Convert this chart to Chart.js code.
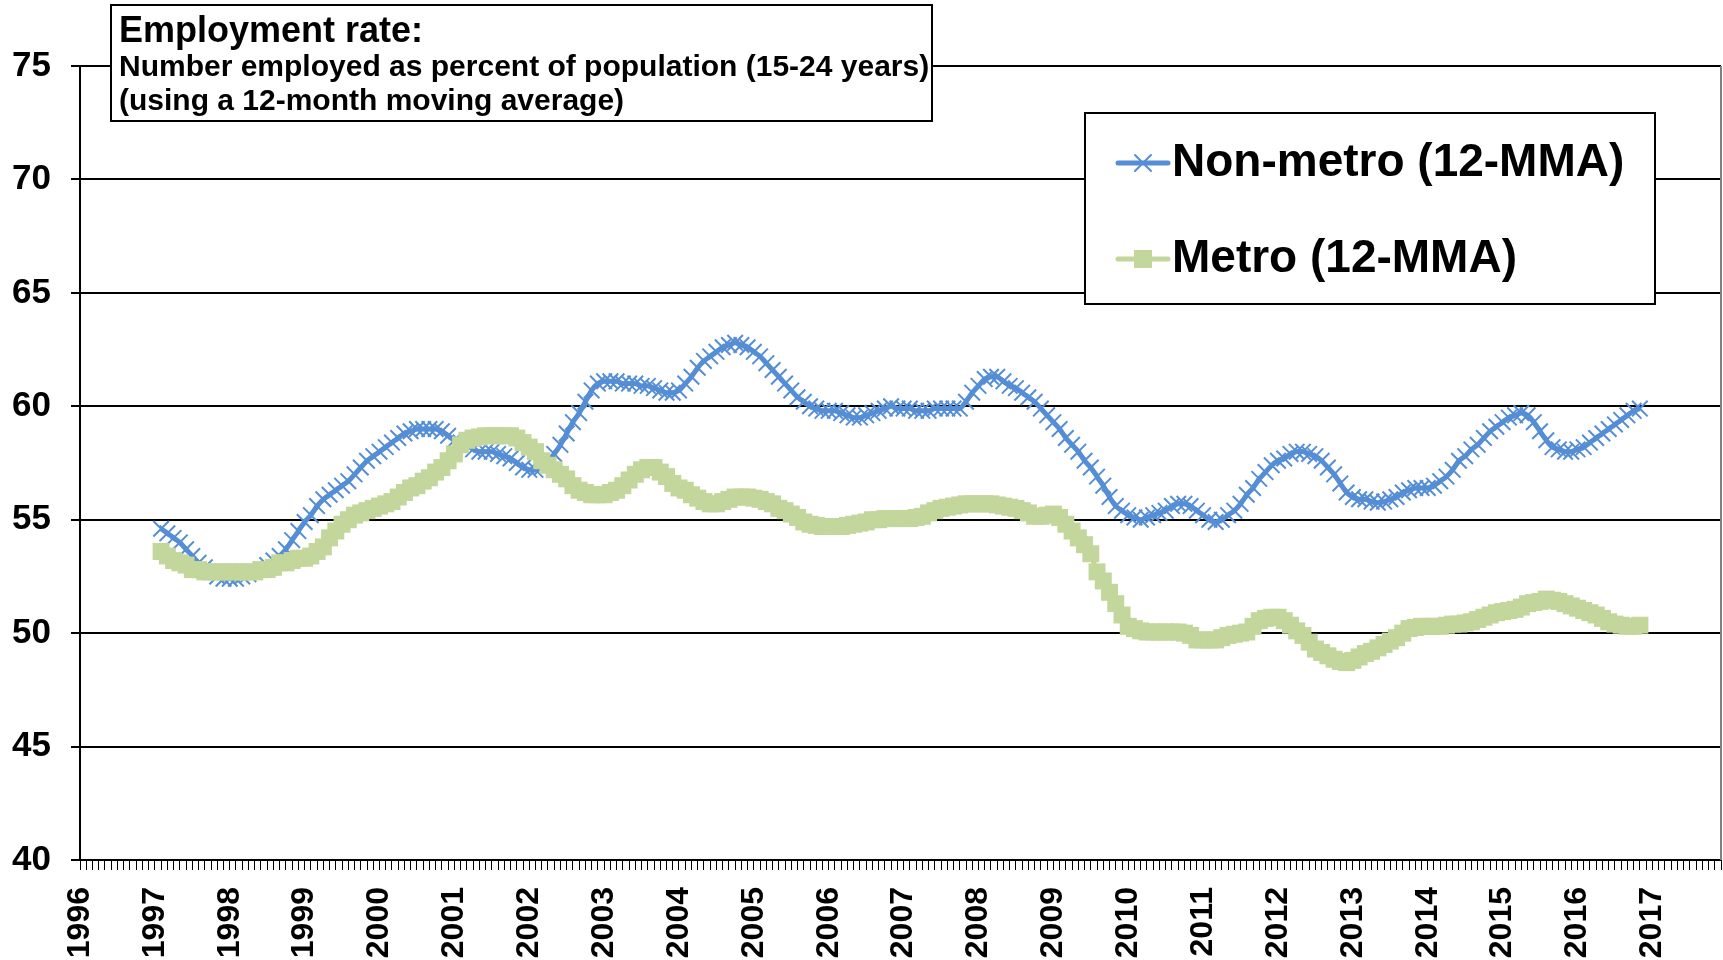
<!DOCTYPE html>
<html>
<head>
<meta charset="utf-8">
<script src="https://cdn.jsdelivr.net/npm/chart.js@4.4.1/dist/chart.umd.min.js"></script>
<style>
  body { margin: 0; background: #fff; }
  canvas { display: block; }
</style>
</head>
<body>
<canvas id="myChart" width="1723" height="960"></canvas>
<script>
// month index 0 = Jan 1996, axis runs to Dec 2017
const yearLabels = [1996, 1997, 1998, 1999, 2000, 2001, 2002, 2003, 2004, 2005, 2006,
  2007, 2008, 2009, 2010, 2011, 2012, 2013, 2014, 2015, 2016, 2017];
const firstMonth = 13; // series start Feb 1997, end Nov 2016

const nonMetro = [
  54.6, 54.4, 54.2, 54.0, 53.7, 53.4, 53.1, 52.9, 52.7, 52.5, 52.4, 52.4,
  52.4, 52.5, 52.6, 52.7, 52.8, 53.0, 53.2, 53.4, 53.7, 54.1, 54.5, 54.9,
  55.2, 55.6, 55.9, 56.1, 56.3, 56.5, 56.7, 57.0, 57.3, 57.6, 57.8, 58.0,
  58.2, 58.4, 58.6, 58.8, 58.9, 59.0, 59.0, 59.0, 59.0, 58.9, 58.7, 58.5,
  58.4, 58.3, 58.1, 58.0, 58.0, 58.0, 57.9, 57.8, 57.7, 57.5, 57.3, 57.2,
  57.2, 57.3, 57.6, 57.9, 58.3, 58.8, 59.3, 59.7, 60.2, 60.7, 61.0, 61.1,
  61.1, 61.1, 61.0, 61.0, 61.0, 60.9, 60.9, 60.8, 60.7, 60.6, 60.6, 60.7,
  61.0, 61.3, 61.7, 62.0, 62.2, 62.4, 62.6, 62.7, 62.8, 62.7, 62.6, 62.4,
  62.2, 61.9, 61.6, 61.3, 61.0, 60.7, 60.4, 60.2, 60.0, 59.9, 59.8, 59.8,
  59.8, 59.7, 59.6, 59.5, 59.5, 59.6, 59.7, 59.8, 59.9, 60.0, 59.9, 59.9,
  59.9, 59.8, 59.8, 59.8, 59.9, 59.9, 59.9, 59.9, 59.9, 60.2, 60.6, 60.9,
  61.2, 61.3, 61.3, 61.1, 60.9, 60.8, 60.6, 60.4, 60.2, 59.9, 59.6, 59.3,
  59.0, 58.6, 58.3, 58.0, 57.6, 57.3, 56.9, 56.5, 56.0, 55.6, 55.4, 55.2,
  55.1, 55.0, 55.1, 55.2, 55.3, 55.4, 55.6, 55.7, 55.7, 55.6, 55.4, 55.2,
  55.0, 54.9, 55.0, 55.2, 55.4, 55.7, 56.1, 56.4, 56.8, 57.1, 57.4, 57.6,
  57.7, 57.9, 58.0, 58.0, 57.9, 57.8, 57.6, 57.3, 57.0, 56.6, 56.2, 56.0,
  55.9, 55.9, 55.8, 55.75, 55.8, 55.9, 56.0, 56.2, 56.3, 56.4, 56.4, 56.4,
  56.5, 56.7, 56.9, 57.2, 57.6, 57.8, 58.1, 58.3, 58.6, 58.9, 59.1, 59.3,
  59.5, 59.6, 59.7, 59.6, 59.3, 58.9, 58.5, 58.2, 58.1, 58.0, 58.0, 58.1,
  58.2, 58.4, 58.6, 58.8, 59.0, 59.2, 59.4, 59.6, 59.8, 59.9
];

const metro = [
  53.6, 53.4, 53.2, 53.1, 53.0, 52.8, 52.8, 52.7, 52.7, 52.7, 52.7, 52.7,
  52.7, 52.7, 52.7, 52.7, 52.8, 52.8, 52.9, 53.1, 53.1, 53.2, 53.3, 53.3,
  53.4, 53.6, 53.8, 54.2, 54.5, 54.8, 55.0, 55.2, 55.3, 55.4, 55.5, 55.6,
  55.7, 55.8, 56.0, 56.2, 56.4, 56.5, 56.7, 56.85, 57.1, 57.3, 57.6, 57.9,
  58.3, 58.5, 58.6, 58.65, 58.7, 58.7, 58.7, 58.7, 58.7, 58.6, 58.4, 58.2,
  58.0, 57.6, 57.4, 57.2, 57.0, 56.8, 56.5, 56.3, 56.2, 56.1, 56.1, 56.1,
  56.2, 56.3, 56.5, 56.75, 57.0, 57.2, 57.3, 57.3, 57.1, 56.9, 56.6, 56.4,
  56.3, 56.1, 55.95, 55.8, 55.7, 55.7, 55.8, 55.9, 56.0, 56.0, 56.0, 55.95,
  55.9, 55.8, 55.7, 55.5, 55.4, 55.25, 55.1, 54.9, 54.8, 54.75, 54.7, 54.7,
  54.7, 54.7, 54.75, 54.8, 54.85, 54.9, 55.0, 55.0, 55.05, 55.05, 55.05, 55.05,
  55.05, 55.1, 55.15, 55.3, 55.4, 55.5, 55.55, 55.6, 55.65, 55.7, 55.7, 55.7,
  55.7, 55.7, 55.65, 55.6, 55.55, 55.5, 55.4, 55.3, 55.15, 55.15, 55.2, 55.25,
  55.1, 54.8, 54.5, 54.2, 53.9, 53.5, 52.7, 52.3, 51.8, 51.3, 50.8, 50.3,
  50.2, 50.1, 50.05, 50.05, 50.05, 50.05, 50.05, 50.05, 50.0, 49.9, 49.7, 49.7,
  49.7, 49.7, 49.8, 49.9, 49.95, 50.0, 50.05, 50.3, 50.55, 50.65, 50.7, 50.7,
  50.55, 50.35, 50.1, 49.9, 49.6, 49.3, 49.15, 49.0, 48.85, 48.75, 48.7, 48.8,
  48.95, 49.1, 49.2, 49.35, 49.5, 49.65, 49.8, 50.0, 50.2, 50.25, 50.3, 50.3,
  50.3, 50.3, 50.35, 50.4, 50.4, 50.45, 50.5, 50.6, 50.7, 50.8, 50.9, 50.95,
  51.0, 51.05, 51.15, 51.3, 51.35, 51.4, 51.5, 51.45, 51.4, 51.3, 51.2, 51.1,
  51.0, 50.9, 50.8, 50.65, 50.5, 50.4, 50.35, 50.3, 50.3, 50.35
];

const seriesNames = ['Non-metro (12-MMA)', 'Metro (12-MMA)'];
const titleLines = ['Employment rate:',
  'Number employed as percent of population (15-24 years)',
  '(using a 12-month moving average)'];

const BLUE = '#558ED5';
const GREEN = '#C3D69B';
const FONT = "'Liberation Sans', Arial, sans-serif";

const totalMonths = yearLabels.length * 12; // 264

const boxesPlugin = {
  id: 'boxes',
  afterDraw(chart) {
    const ctx = chart.ctx;
    const area = chart.chartArea;
    ctx.save();
    // right edge of plot area
    ctx.strokeStyle = '#808080';
    ctx.lineWidth = 2;
    ctx.beginPath();
    ctx.moveTo(area.right, area.top);
    ctx.lineTo(area.right, area.bottom);
    ctx.stroke();

    // title box
    ctx.fillStyle = '#fff';
    ctx.fillRect(111, 5, 821, 116);
    ctx.strokeStyle = '#000';
    ctx.lineWidth = 2;
    ctx.strokeRect(111, 5, 821, 116);
    ctx.fillStyle = '#000';
    ctx.textBaseline = 'middle';
    ctx.textAlign = 'left';
    ctx.font = 'bold 36px ' + FONT;
    ctx.fillText(titleLines[0], 119, 32);
    ctx.font = 'bold 30px ' + FONT;
    ctx.fillText(titleLines[1], 119, 68);
    ctx.fillText(titleLines[2], 119, 102);

    // legend box
    ctx.fillStyle = '#fff';
    ctx.fillRect(1085, 113, 570, 191);
    ctx.strokeStyle = '#000';
    ctx.lineWidth = 2;
    ctx.strokeRect(1085, 113, 570, 191);

    const rows = [163, 259];
    // non-metro sample
    ctx.lineCap = 'round';
    ctx.strokeStyle = BLUE;
    ctx.lineWidth = 5;
    ctx.beginPath();
    ctx.moveTo(1118, rows[0]);
    ctx.lineTo(1168, rows[0]);
    ctx.stroke();
    ctx.lineWidth = 2;
    ctx.beginPath();
    ctx.moveTo(1135, rows[0] - 8); ctx.lineTo(1151, rows[0] + 8);
    ctx.moveTo(1151, rows[0] - 8); ctx.lineTo(1135, rows[0] + 8);
    ctx.stroke();
    // metro sample
    ctx.strokeStyle = GREEN;
    ctx.lineWidth = 5;
    ctx.beginPath();
    ctx.moveTo(1118, rows[1]);
    ctx.lineTo(1168, rows[1]);
    ctx.stroke();
    ctx.fillStyle = GREEN;
    ctx.fillRect(1134, rows[1] - 9, 18, 18);

    ctx.fillStyle = '#000';
    ctx.font = 'bold 46px ' + FONT;
    ctx.fillText(seriesNames[0], 1172, rows[0]);
    ctx.fillText(seriesNames[1], 1172, rows[1]);
    ctx.restore();
  }
};

const ctx = document.getElementById('myChart').getContext('2d');
const myChart = new Chart(ctx, {
  type: 'line',
  data: {
    datasets: [{
      label: seriesNames[0],
      data: nonMetro.map((v, i) => ({ x: firstMonth + i, y: v })),
      borderColor: BLUE,
      borderWidth: 5,
      pointStyle: 'crossRot',
      pointRadius: 11,
      pointBorderWidth: 2,
      pointBorderColor: BLUE,
      pointBackgroundColor: BLUE,
      tension: 0.3,
      fill: false,
      order: 2
    }, {
      label: seriesNames[1],
      data: metro.map((v, i) => ({ x: firstMonth + i, y: v })),
      borderColor: GREEN,
      borderWidth: 5,
      pointStyle: 'rect',
      pointRadius: 12,
      pointBorderWidth: 0,
      pointBorderColor: GREEN,
      pointBackgroundColor: GREEN,
      tension: 0.3,
      fill: false,
      order: 1
    }]
  },
  options: {
    responsive: false,
    animation: false,
    layout: { autoPadding: false, padding: { top: 66, right: 2, left: 0, bottom: 0 } },
    plugins: {
      legend: { display: false },
      tooltip: { enabled: false }
    },
    scales: {
      x: {
        type: 'linear',
        min: 0,
        max: totalMonths - 1,
        afterBuildTicks(axis) {
          axis.ticks = Array.from({ length: totalMonths }, (_, i) => ({ value: i }));
        },
        afterFit(scale) {
          scale.height = 100;
          scale.paddingLeft = 0;
          scale.paddingRight = 0;
        },
        grid: {
          drawOnChartArea: false,
          drawTicks: true,
          tickLength: 10,
          color: '#000',
          lineWidth: 1
        },
        border: { color: '#000', width: 2 },
        ticks: {
          autoSkip: false,
          minRotation: 90,
          maxRotation: 90,
          padding: 17,
          color: '#000',
          font: { family: FONT, size: 32, weight: 'bold' },
          callback: (value) => value % 12 === 0 ? String(yearLabels[value / 12]) : ''
        }
      },
      y: {
        min: 40,
        max: 75,
        afterFit(scale) { scale.width = 80; },
        grid: {
          color: '#000',
          lineWidth: 2,
          tickLength: 9
        },
        border: { color: '#000', width: 2 },
        ticks: {
          stepSize: 5,
          padding: 20,
          color: '#000',
          font: { family: FONT, size: 35, weight: 'bold' }
        }
      }
    }
  },
  plugins: [boxesPlugin]
});
</script>
</body>
</html>
